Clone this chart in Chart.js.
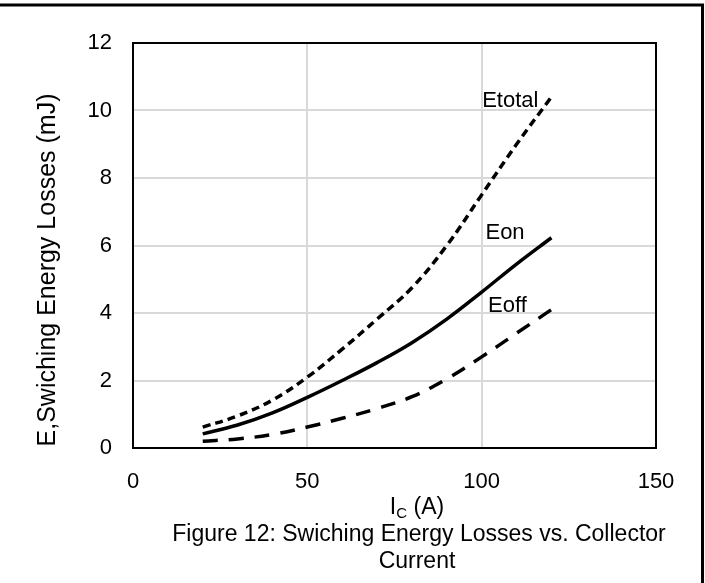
<!DOCTYPE html>
<html>
<head>
<meta charset="utf-8">
<script src="https://cdn.jsdelivr.net/npm/chart.js@4.4.0/dist/chart.umd.min.js"></script>
<style>
  html, body { margin: 0; padding: 0; background: #fff; }
  #wrap { width: 705px; height: 583px; }
</style>
</head>
<body>
<div id="wrap"><canvas id="chart-losses" width="705" height="583"></canvas></div>
<script>
const $ = document.querySelector.bind(document);

// values
const currents = [20, 30, 40, 50, 60, 70, 80, 90, 100, 110, 120];
const eon = [0.42, 0.68, 1.04, 1.5, 2.0, 2.53, 3.12, 3.82, 4.62, 5.45, 6.23];
const eoff = [0.2, 0.27, 0.4, 0.62, 0.88, 1.17, 1.52, 2.05, 2.7, 3.4, 4.1];
const etotal = [0.62, 0.95, 1.42, 2.1, 2.93, 3.82, 4.75, 6.0, 7.5, 9.0, 10.4];
const xTicks = [0, 50, 100, 150];
const yTicks = [0, 2, 4, 6, 8, 10, 12];

const FONT = "'Liberation Sans', Arial, sans-serif";

// where the curve names sit, in data units
const curveLabels = [
  { text: "Etotal", x: 108.2, y: 10.28 },
  { text: "Eon", x: 106.7, y: 6.37 },
  { text: "Eoff", x: 107.4, y: 4.2 },
];

function points(values) {
  return currents.map((c, i) => ({ x: c, y: values[i] }));
}

const decorations = {
  id: "decorations",
  afterDraw(chart) {
    const ctx = chart.ctx;
    const area = chart.chartArea;
    const sx = chart.scales.x;
    const sy = chart.scales.y;
    ctx.save();

    // plot box
    ctx.strokeStyle = "#000";
    ctx.lineWidth = 2;
    ctx.strokeRect(area.left, area.top, area.right - area.left, area.bottom - area.top);

    // outer frame, top and right only
    ctx.lineWidth = 3;
    ctx.beginPath();
    ctx.moveTo(0, 5);
    ctx.lineTo(702.5, 5);
    ctx.lineTo(702.5, 583);
    ctx.stroke();

    ctx.fillStyle = "#000";
    ctx.textAlign = "center";
    ctx.textBaseline = "middle";

    // curve names
    ctx.font = "22px " + FONT;
    curveLabels.forEach((l) => {
      ctx.fillText(l.text, sx.getPixelForValue(l.x), sy.getPixelForValue(l.y));
    });

    // x axis title with subscript
    const cx = 417;
    ctx.textAlign = "left";
    ctx.font = "23px " + FONT;
    const wI = ctx.measureText("I").width;
    const wRest = ctx.measureText(" (A)").width;
    ctx.font = "15px " + FONT;
    const wC = ctx.measureText("C").width;
    let x = cx - (wI + wC + wRest) / 2;
    ctx.font = "23px " + FONT;
    ctx.fillText("I", x, 508);
    x += wI;
    ctx.font = "15px " + FONT;
    ctx.fillText("C", x, 514);
    x += wC;
    ctx.font = "23px " + FONT;
    ctx.fillText(" (A)", x, 508);

    // caption
    ctx.textAlign = "center";
    ctx.fillText("Figure 12: Swiching Energy Losses vs. Collector", cx + 2, 535);
    ctx.fillText("Current", cx, 562);

    // y axis title
    ctx.translate(48, 270);
    ctx.rotate(-Math.PI / 2);
    ctx.font = "25px " + FONT;
    ctx.fillText("E,Swiching Energy Losses (mJ)", 0, 0);

    ctx.restore();
  },
};

function chartLosses() {
  const line = { borderColor: "#000", borderWidth: 3.5, pointRadius: 0, fill: false, tension: 0.4 };

  new Chart($("#chart-losses"), {
    type: "line",
    data: {
      datasets: [
        { label: "Etotal", data: points(etotal), ...line, borderDash: [8, 5] },
        { label: "Eon", data: points(eon), ...line },
        { label: "Eoff", data: points(eoff), ...line, borderDash: [15, 11] },
      ],
    },
    options: {
      responsive: false,
      animation: false,
      devicePixelRatio: 1,
      layout: { padding: { top: 43, right: 49, left: 0, bottom: 0 } },
      plugins: { legend: { display: false }, tooltip: { enabled: false } },
      scales: {
        x: {
          type: "linear",
          min: 0,
          max: 150,
          afterBuildTicks: (scale) => {
            scale.ticks = xTicks.map((v) => ({ value: v }));
          },
          afterFit: (scale) => {
            scale.height = 135;
          },
          grid: { color: "#d9d9d9", lineWidth: 2, drawTicks: false },
          border: { display: false },
          ticks: { color: "#000", font: { family: FONT, size: 22 }, padding: 21, maxRotation: 0 },
        },
        y: {
          min: 0,
          max: 12,
          afterBuildTicks: (scale) => {
            scale.ticks = yTicks.map((v) => ({ value: v }));
          },
          afterFit: (scale) => {
            scale.width = 133;
          },
          grid: { color: "#d9d9d9", lineWidth: 2, drawTicks: false },
          border: { display: false },
          ticks: { color: "#000", font: { family: FONT, size: 22 }, padding: 21 },
        },
      },
    },
    plugins: [decorations],
  });
}

document.addEventListener("DOMContentLoaded", chartLosses);
</script>
</body>
</html>
